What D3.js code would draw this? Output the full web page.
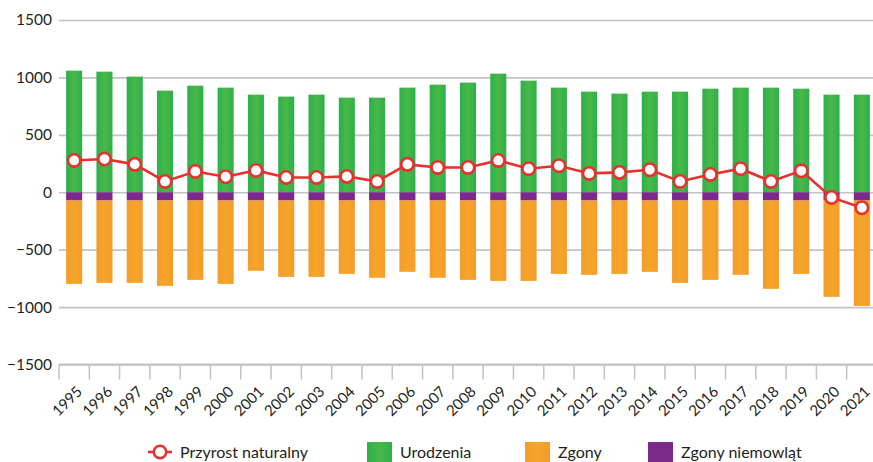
<!DOCTYPE html>
<html>
<head>
<meta charset="utf-8">
<script src="https://d3js.org/d3.v7.min.js"></script>
<style>
  body { margin: 0; background: #fff; }
  svg text { font-family: Lato, "Open Sans", sans-serif; fill: #231f20; }
</style>
</head>
<body>
<div id="chart"></div>
<script>
// data
var years = ["1995","1996","1997","1998","1999","2000","2001","2002","2003","2004","2005","2006","2007",
  "2008","2009","2010","2011","2012","2013","2014","2015","2016","2017","2018","2019","2020","2021"];
var urodzenia = [1059,1050,1007,885,928,911,850,833,850,824,824,911,937,955,1033,972,911,876,859,876,876,902,911,911,902,850,850];
var zgonyNiemowlat = [-72,-72,-72,-72,-72,-72,-72,-72,-72,-72,-72,-72,-72,-72,-72,-72,-72,-72,-72,-72,-72,-72,-72,-72,-72,-72,-72];
var zgony = [-726,-717,-717,-743,-691,-726,-612,-665,-665,-639,-673,-621,-673,-691,-700,-700,-639,-647,-639,-621,-717,-691,-647,-769,-639,-839,-918];
var przyrost = [277,289,243,94,181,135,190,129,129,138,94,243,216,216,277,205,231,164,173,196,94,155,205,94,187,-45,-135];
var yTicks = [1500,1000,500,0,-500,-1000,-1500];
var legendLabels = ["Przyrost naturalny", "Urodzenia", "Zgony", "Zgony niemowląt"];

var W = 873, H = 462;
var svg = d3.select("#chart").append("svg").attr("width", W).attr("height", H);

var x = d3.scaleBand().domain(years).range([59, 877]).paddingInner(0.47).paddingOuter(0.235);
var y = d3.scaleLinear().domain([-1500, 1500]).range([364.5, 20]);

// gradients
var defs = svg.append("defs");
function grad(id, edge, mid) {
  var g = defs.append("linearGradient").attr("id", id).attr("x1", "0").attr("x2", "1").attr("y1", "0").attr("y2", "0");
  g.append("stop").attr("offset", "0%").attr("stop-color", edge);
  g.append("stop").attr("offset", "50%").attr("stop-color", mid);
  g.append("stop").attr("offset", "100%").attr("stop-color", edge);
}
grad("gGreen", "#2bb04a", "#4ab848");
grad("gOrange", "#f39c2b", "#f6a52a");

// grid + y labels
svg.append("g")
  .attr("class", "yaxis")
  .attr("transform", "translate(59,0)")
  .call(d3.axisLeft(y).tickValues(yTicks).tickSize(-(W - 59)).tickFormat(function (d) { return d < 0 ? "\u2212" + Math.abs(d) : d; }))
  .call(function (g) {
    g.select(".domain").remove();
    g.selectAll(".tick line").attr("stroke", "#c3c3c7").attr("stroke-width", 1.6);
    g.selectAll(".tick text").attr("x", -7).attr("font-size", 15.5).attr("fill", "#231f20");
  });

// bars
svg.selectAll(".green").data(years).enter().append("rect")
  .attr("x", function (d) { return x(d); })
  .attr("width", x.bandwidth())
  .attr("y", function (d, i) { return y(urodzenia[i]); })
  .attr("height", function (d, i) { return y(0) - y(urodzenia[i]); })
  .attr("fill", "url(#gGreen)");

svg.selectAll(".purple").data(years).enter().append("rect")
  .attr("x", function (d) { return x(d); })
  .attr("width", x.bandwidth())
  .attr("y", y(0))
  .attr("height", function (d, i) { return y(zgonyNiemowlat[i]) - y(0); })
  .attr("fill", "#7b2a8b");

svg.selectAll(".orange").data(years).enter().append("rect")
  .attr("x", function (d) { return x(d); })
  .attr("width", x.bandwidth())
  .attr("y", function (d, i) { return y(zgonyNiemowlat[i]); })
  .attr("height", function (d, i) { return y(zgonyNiemowlat[i] + zgony[i]) - y(zgonyNiemowlat[i]); })
  .attr("fill", "url(#gOrange)");

// x axis
var xg = svg.append("g").attr("transform", "translate(0," + y(-1500) + ")");
xg.append("line").attr("x1", 59).attr("x2", W).attr("stroke", "#c3c3c7").attr("stroke-width", 2);
xg.selectAll(".tk").data(years).enter().append("line")
  .attr("x1", function (d) { return x(d) - x.step() * 0.235; })
  .attr("x2", function (d) { return x(d) - x.step() * 0.235; })
  .attr("y1", 0).attr("y2", 15)
  .attr("stroke", "#c3c3c7").attr("stroke-width", 1.5);
xg.selectAll(".lbl").data(years).enter().append("text")
  .attr("text-anchor", "end")
  .attr("font-size", 15)
  .attr("transform", function (d) { return "translate(" + (x(d) + x.bandwidth() / 2 + 9) + ",28) rotate(-45)"; })
  .text(function (d) { return d; });

// line
var line = d3.line()
  .x(function (d, i) { return x(years[i]) + x.bandwidth() / 2; })
  .y(function (d) { return y(d); });
svg.append("path").datum(przyrost)
  .attr("d", line)
  .attr("fill", "none")
  .attr("stroke", "#e8302f")
  .attr("stroke-width", 2.6);
svg.selectAll(".dot").data(przyrost).enter().append("circle")
  .attr("cx", function (d, i) { return x(years[i]) + x.bandwidth() / 2; })
  .attr("cy", function (d) { return y(d); })
  .attr("r", 6.2)
  .attr("fill", "#fff")
  .attr("stroke", "#e8302f")
  .attr("stroke-width", 2.6);

// legend
var lg = svg.append("g").attr("transform", "translate(0,452)");
lg.append("line").attr("x1", 148).attr("x2", 172).attr("stroke", "#e8302f").attr("stroke-width", 2.6);
lg.append("circle").attr("cx", 160).attr("r", 6.2).attr("fill", "#fff").attr("stroke", "#e8302f").attr("stroke-width", 2.6);
var sw = [
  { x: 367, fill: "url(#gGreen)" },
  { x: 525, fill: "url(#gOrange)" },
  { x: 648, fill: "#7b2a8b" }
];
lg.selectAll(".sw").data(sw).enter().append("rect")
  .attr("x", function (d) { return d.x; }).attr("y", -10)
  .attr("width", 25).attr("height", 20)
  .attr("fill", function (d) { return d.fill; });
var lx = [180, 400, 558, 681];
lg.selectAll(".lt").data(legendLabels).enter().append("text")
  .attr("x", function (d, i) { return lx[i]; })
  .attr("y", 6)
  .attr("font-size", 16)
  .text(function (d) { return d; });
</script>
</body>
</html>
